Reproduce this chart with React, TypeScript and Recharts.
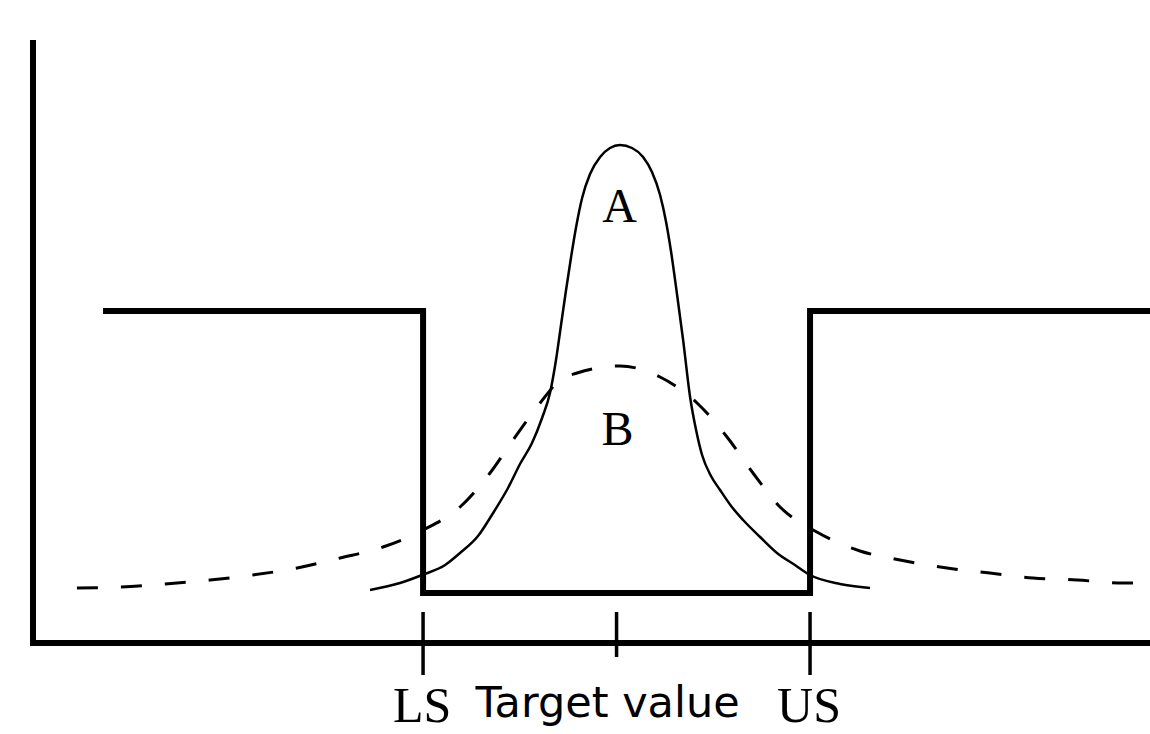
import { ComposedChart, Line, ReferenceDot, XAxis, YAxis } from "recharts";

// x: 0 = target value, -1 / +1 = lower / upper specification limit
// y: arbitrary height above the axis
const SPEC_TICKS = [-1, 0, 1];
const TICK_LABELS = ["LS", "Target value", "US"];

const STEP_X = [-2.654, -1, -1, 1, 1, 2.757];
const STEP_Y = [3.32, 3.32, 0.5, 0.5, 3.32, 3.32];

const CURVE_A: [number, number][] = [
  [-1.274, 0.53],
  [-1.119, 0.6],
  [-1.005, 0.68],
  [-0.886, 0.78],
  [-0.809, 0.9],
  [-0.716, 1.07],
  [-0.638, 1.3],
  [-0.561, 1.55],
  [-0.499, 1.79],
  [-0.437, 2.0],
  [-0.385, 2.25],
  [-0.344, 2.5],
  [-0.313, 2.83],
  [-0.287, 3.18],
  [-0.261, 3.53],
  [-0.235, 3.86],
  [-0.209, 4.16],
  [-0.178, 4.45],
  [-0.137, 4.69],
  [-0.085, 4.86],
  [-0.034, 4.95],
  [0.018, 4.98],
  [0.08, 4.95],
  [0.137, 4.86],
  [0.183, 4.71],
  [0.225, 4.48],
  [0.256, 4.21],
  [0.282, 3.91],
  [0.313, 3.48],
  [0.344, 3.03],
  [0.38, 2.46],
  [0.411, 2.13],
  [0.442, 1.88],
  [0.488, 1.67],
  [0.535, 1.53],
  [0.592, 1.37],
  [0.654, 1.23],
  [0.742, 1.06],
  [0.829, 0.9],
  [0.922, 0.78],
  [1.0, 0.68],
  [1.155, 0.59],
  [1.31, 0.55],
];

const CURVE_B: [number, number][] = [
  [-2.789, 0.55],
  [-2.566, 0.56],
  [-2.333, 0.59],
  [-2.101, 0.63],
  [-1.879, 0.68],
  [-1.651, 0.75],
  [-1.429, 0.85],
  [-1.207, 0.96],
  [-1.0, 1.13],
  [-0.809, 1.36],
  [-0.654, 1.7],
  [-0.535, 2.03],
  [-0.395, 2.4],
  [-0.292, 2.63],
  [-0.204, 2.7],
  [0.018, 2.77],
  [0.225, 2.66],
  [0.416, 2.4],
  [0.571, 2.06],
  [0.705, 1.7],
  [0.845, 1.36],
  [1.035, 1.11],
  [1.258, 0.92],
  [1.465, 0.83],
  [1.708, 0.75],
  [1.93, 0.7],
  [2.152, 0.65],
  [2.38, 0.63],
  [2.618, 0.6],
  [2.669, 0.6],
];

const CURVE_LABELS: { text: string; x: number; y: number }[] = [
  { text: "A", x: 0.016, y: 4.21 },
  { text: "B", x: 0.005, y: 1.98 },
];

const X_DOMAIN = [-3.016, 2.757];
const Y_DOMAIN = [0, 6];

const SERIF = "'Liberation Serif', 'Times New Roman', serif";
const SANS = "'DejaVu Sans', Verdana, sans-serif";

const toPoints = (pairs: [number, number][]) => pairs.map(([x, y]) => ({ x, y }));
const stepPoints = STEP_X.map((x, i) => ({ x, y: STEP_Y[i] }));

function SpecTick(props: any) {
  const { x, y, payload } = props;
  const index = SPEC_TICKS.indexOf(payload.value);
  const isTarget = payload.value === 0;
  return (
    <g>
      <line
        x1={x}
        x2={x}
        y1={y - 31}
        y2={y + (isTarget ? 14 : 32)}
        stroke="#000"
        strokeWidth={3.5}
      />
      <text
        x={isTarget ? x - 9 : x - 1}
        y={y + (isTarget ? 74 : 79)}
        textAnchor="middle"
        fill="#000"
        fontFamily={isTarget ? SANS : SERIF}
        fontSize={isTarget ? 43 : 50}
      >
        {TICK_LABELS[index]}
      </text>
    </g>
  );
}

export default function App() {
  return (
    <div style={{ position: "absolute", left: 0, top: 0, background: "#fff" }}>
      <ComposedChart
        width={1150}
        height={734}
        margin={{ top: 43, right: 0, bottom: 90, left: 32 }}
      >
        <XAxis
          type="number"
          dataKey="x"
          domain={X_DOMAIN}
          allowDataOverflow
          ticks={SPEC_TICKS}
          interval={0}
          height={1}
          tickSize={0}
          tickMargin={0}
          tick={<SpecTick />}
          axisLine={{ stroke: "#000", strokeWidth: 6, strokeLinecap: "square" }}
        />
        <YAxis
          type="number"
          dataKey="y"
          domain={Y_DOMAIN}
          allowDataOverflow
          width={1}
          tick={false}
          tickLine={false}
          axisLine={{ stroke: "#000", strokeWidth: 6, strokeLinecap: "square" }}
        />
        <Line
          data={stepPoints}
          dataKey="y"
          type="linear"
          stroke="#000"
          strokeWidth={6}
          strokeLinejoin="miter"
          dot={false}
          activeDot={false}
          isAnimationActive={false}
        />
        <Line
          data={toPoints(CURVE_B)}
          dataKey="y"
          type="monotone"
          stroke="#000"
          strokeWidth={3}
          strokeDasharray="21 23"
          dot={false}
          activeDot={false}
          isAnimationActive={false}
        />
        <Line
          data={toPoints(CURVE_A)}
          dataKey="y"
          type="monotone"
          stroke="#000"
          strokeWidth={2.5}
          dot={false}
          activeDot={false}
          isAnimationActive={false}
        />
        {CURVE_LABELS.map((label) => (
          <ReferenceDot
            key={label.text}
            x={label.x}
            y={label.y}
            r={0}
            shape={(p: any) => (
              <text
                x={p.cx}
                y={p.cy}
                textAnchor="middle"
                fill="#000"
                fontFamily={SERIF}
                fontSize={48}
              >
                {label.text}
              </text>
            )}
          />
        ))}
      </ComposedChart>
    </div>
  );
}
